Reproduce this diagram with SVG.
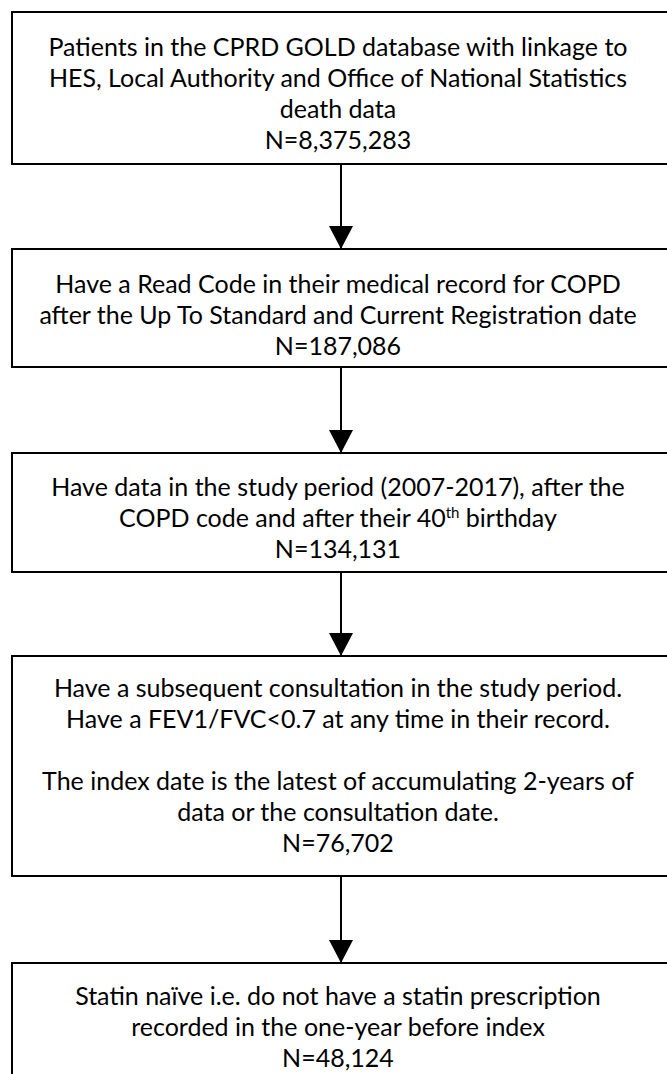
<svg xmlns="http://www.w3.org/2000/svg" width="667" height="1074" viewBox="0 0 667 1074">
<style>
.box{fill:#fff;stroke:#000;stroke-width:2}
.t{font-family:Lato,"Liberation Sans",sans-serif;font-size:25px;fill:#000;text-anchor:middle}
.sup{font-size:15px}
.c{stroke:#000;stroke-width:2;fill:none}
</style>
<defs>
<marker id="ah" markerUnits="userSpaceOnUse" markerWidth="24" markerHeight="24" viewBox="0 0 24 24" refX="23" refY="12" orient="auto">
<path d="M0,0 L23,12 L0,24 Z" fill="#000"/>
</marker>
</defs>
<rect width="667" height="1074" fill="#fff"/>
<g id="n1">
<rect class="box" x="12" y="12" width="680" height="152"/>
<text class="t" x="338" y="56">Patients in the CPRD GOLD database with linkage to</text>
<text class="t" x="338" y="87">HES, Local Authority and Office of National Statistics</text>
<text class="t" x="338" y="118">death data</text>
<text class="t" x="338" y="149">N=8,375,283</text>
</g>
<g id="n2">
<rect class="box" x="12" y="249" width="680" height="118"/>
<text class="t" x="338" y="293">Have a Read Code in their medical record for COPD</text>
<text class="t" x="338" y="324">after the Up To Standard and Current Registration date</text>
<text class="t" x="338" y="355">N=187,086</text>
</g>
<g id="n3">
<rect class="box" x="12" y="453" width="680" height="119"/>
<text class="t" x="338" y="496">Have data in the study period (2007-2017), after the</text>
<text class="t" x="338" y="527">COPD code and after their 40<tspan class="sup" dy="-9">th</tspan><tspan dy="9"> birthday</tspan></text>
<text class="t" x="338" y="558">N=134,131</text>
</g>
<g id="n4">
<rect class="box" x="12" y="656" width="680" height="220"/>
<text class="t" x="338" y="697">Have a subsequent consultation in the study period.</text>
<text class="t" x="338" y="728">Have a FEV1/FVC&lt;0.7 at any time in their record.</text>
<text class="t" x="338" y="790">The index date is the latest of accumulating 2-years of</text>
<text class="t" x="338" y="821">data or the consultation date.</text>
<text class="t" x="338" y="852">N=76,702</text>
</g>
<g id="n5">
<rect class="box" x="12" y="963" width="680" height="140"/>
<text class="t" x="338" y="1005">Statin naïve i.e. do not have a statin prescription</text>
<text class="t" x="338" y="1036">recorded in the one-year before index</text>
<text class="t" x="338" y="1067">N=48,124</text>
</g>
<g id="connectors">
<line class="c" x1="341" y1="164" x2="341" y2="249" marker-end="url(#ah)"/>
<line class="c" x1="341" y1="367" x2="341" y2="453" marker-end="url(#ah)"/>
<line class="c" x1="341" y1="572" x2="341" y2="656" marker-end="url(#ah)"/>
<line class="c" x1="341" y1="876" x2="341" y2="963" marker-end="url(#ah)"/>
</g>
</svg>
